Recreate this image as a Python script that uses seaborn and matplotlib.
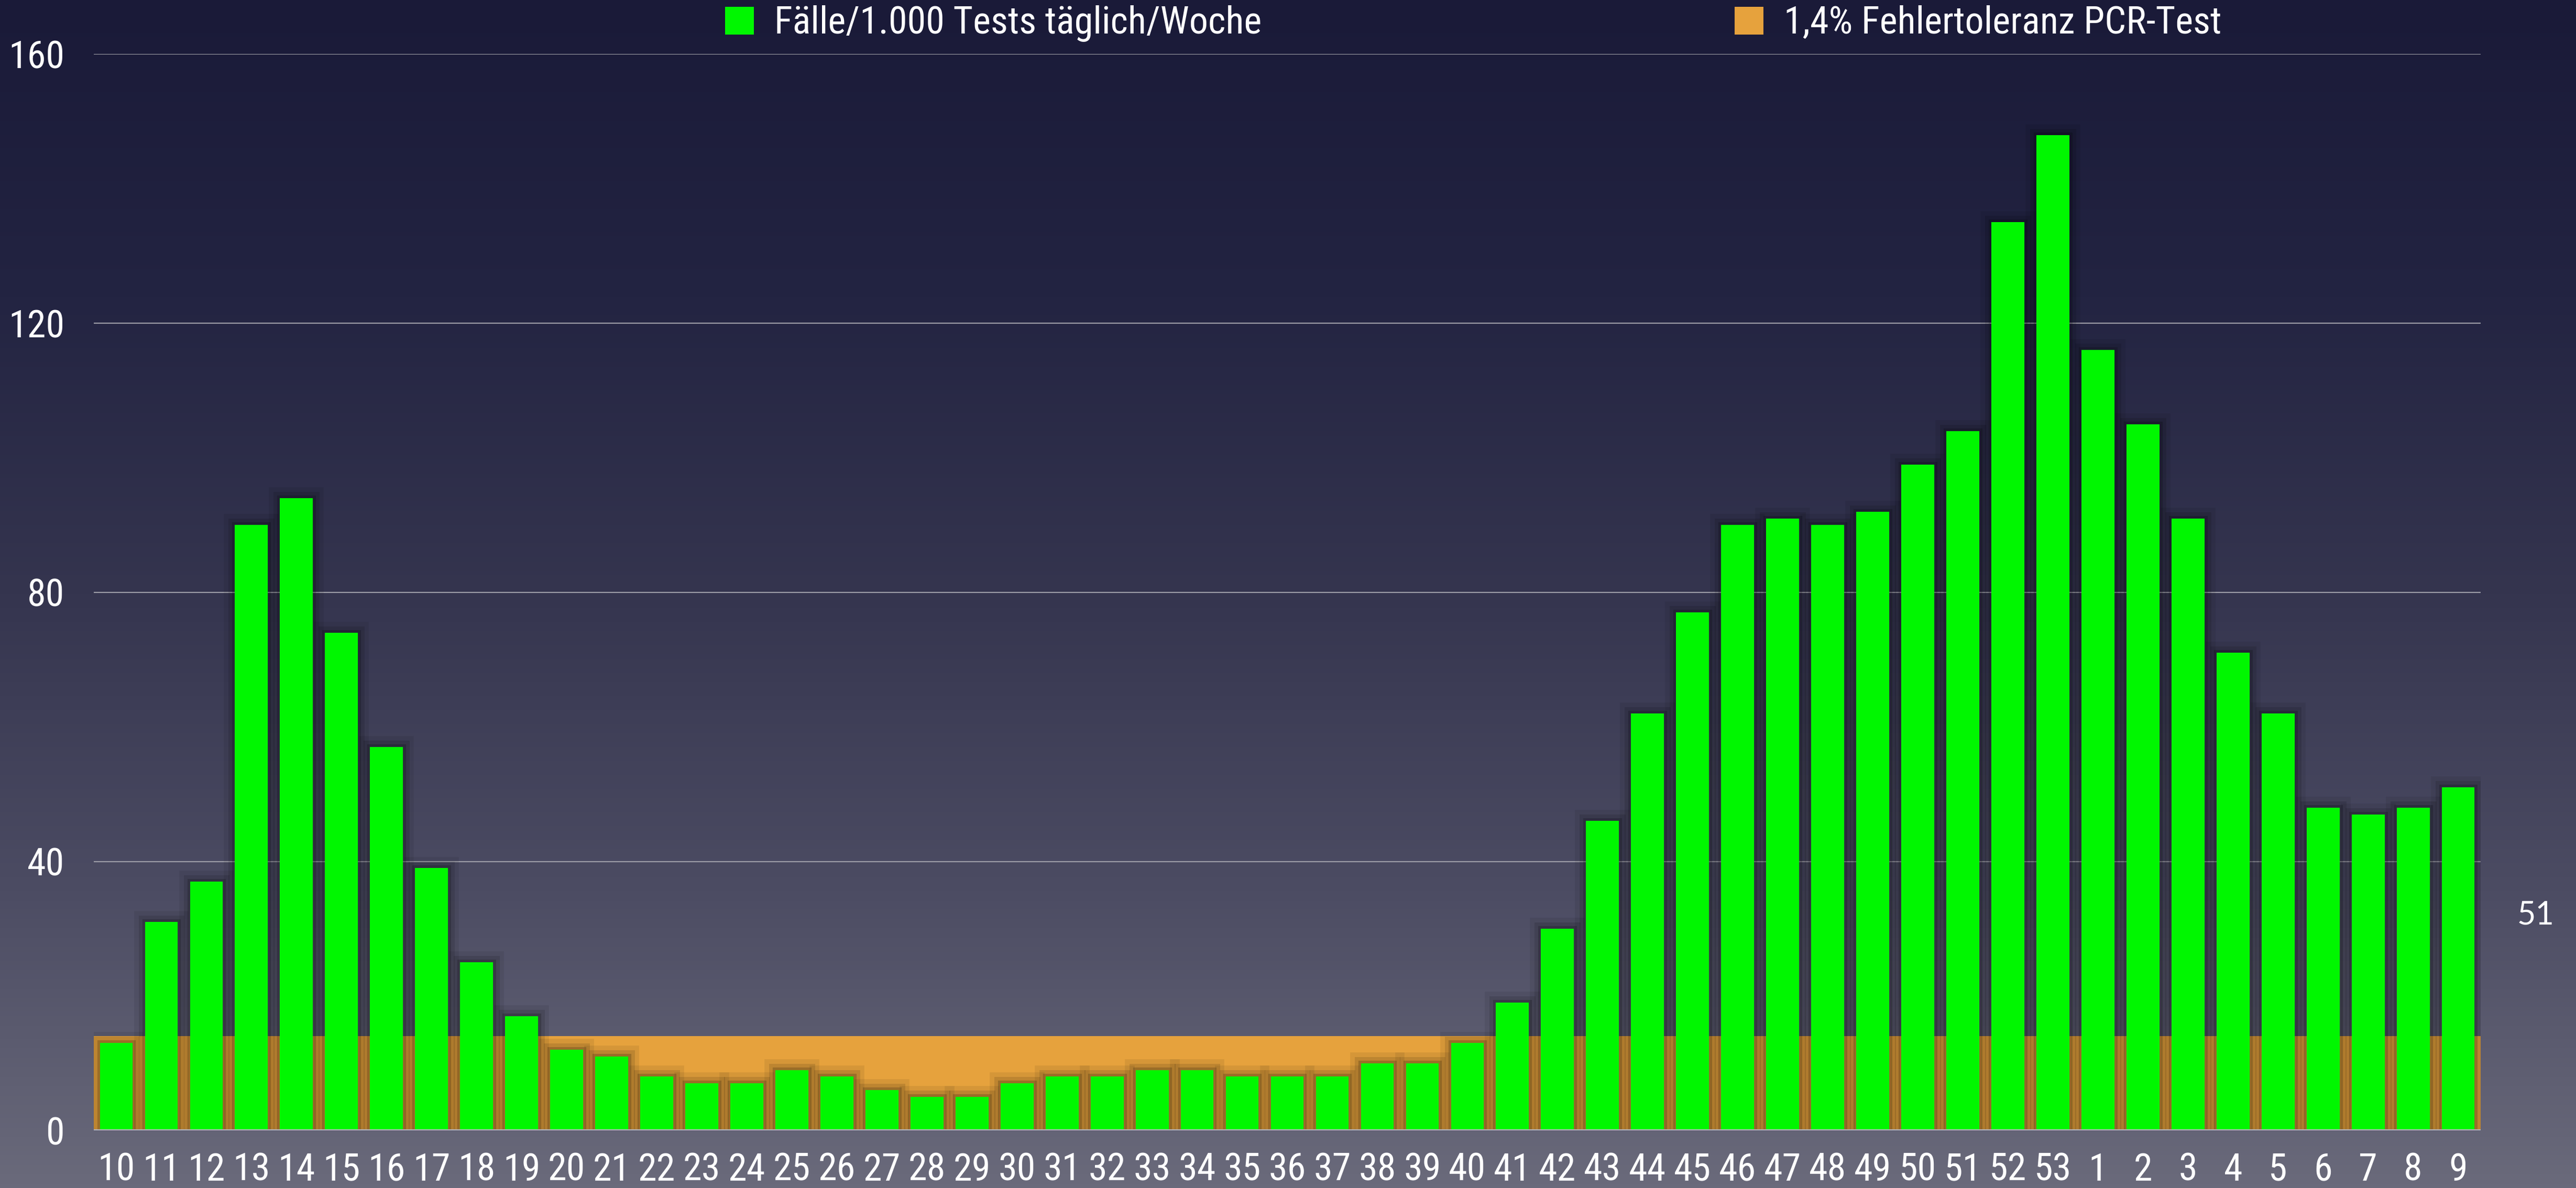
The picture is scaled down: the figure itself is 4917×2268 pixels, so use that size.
import numpy as np
import matplotlib
matplotlib.use("Agg")
import matplotlib.pyplot as plt
import seaborn as sns
from matplotlib.colors import LinearSegmentedColormap
from matplotlib.patches import Patch
from matplotlib import font_manager as fm
import matplotlib.patheffects as pe

# ---------------- data ----------------
weeks = [str(w) for w in list(range(10, 54)) + list(range(1, 10))]
cases_per_1000 = [13, 31, 37, 90, 94, 74, 57, 39, 25, 17,
                  12, 11, 8, 7, 7, 9, 8, 6, 5, 5,
                  7, 8, 8, 9, 9, 8, 8, 8, 10, 10,
                  13, 19, 30, 46, 62, 77, 90, 91, 90, 92,
                  99, 104, 135, 148,
                  116, 105, 91, 71, 62, 48, 47, 48, 51]
tolerance = [14] * len(weeks)
y_ticks = [0, 40, 80, 120, 160]
series_names = ["Fälle/1.000 Tests täglich/Woche", "1,4% Fehlertoleranz PCR-Test"]
current_label = "51"

GREEN = "#00f700"
ORANGE = "#e6a23d"


def find_condensed():
    prefs = ["Liberation Sans Narrow", "Roboto Condensed", "Open Sans Condensed",
             "Noto Sans", "Open Sans", "Roboto", "DejaVu Sans", "Inter", "Lato"]
    cond = ("condensed", "semi-condensed", "extra-condensed", "ultra-condensed",
            75, 62.5, 87.5, 50)
    for name in prefs:
        for f in fm.fontManager.ttflist:
            if f.name != name or f.style != "normal":
                continue
            if f.weight not in (400, "normal", "regular", "book", "Regular"):
                continue
            if f.stretch in cond or "Narrow" in name or "Condensed" in name \
                    or "Condensed" in f.fname or "Narrow" in f.fname:
                return f.fname
    return None


sns.set_theme(style="white")
plt.rcParams["font.family"] = ["DejaVu Sans"]

cpath = find_condensed()
if cpath:
    tick_fp = fm.FontProperties(fname=cpath, size=52)
    leg_fp = fm.FontProperties(fname=cpath, size=52)
else:
    tick_fp = fm.FontProperties(family="DejaVu Sans", size=37)
    leg_fp = fm.FontProperties(family="DejaVu Sans", size=44)

fig = plt.figure(figsize=(49.17, 22.68), dpi=100)

# background gradient
bg = fig.add_axes([0, 0, 1, 1], zorder=-10)
cmap = LinearSegmentedColormap.from_list(
    "bg", ["#1a1a38", "#232442", "#35354f", "#4c4c63", "#6a6a7b"])
grad = np.linspace(0, 1, 512).reshape(-1, 1)
bg.imshow(grad, aspect="auto", cmap=cmap, extent=[0, 1, 0, 1], origin="upper")
bg.axis("off")

ax = fig.add_axes([0.0364, 0.0484, 0.9266, 0.906])
ax.patch.set_alpha(0)

x = np.arange(len(weeks))
x_edges = np.r_[x[0] - 0.5, x, x[-1] + 0.5]
tol_ext = np.r_[tolerance[0], tolerance, tolerance[-1]]
ax.fill_between(x_edges, tol_ext, 0, color=ORANGE, lw=0, zorder=1)

sns.barplot(x=weeks, y=cases_per_1000, order=weeks, color=GREEN,
            saturation=1, width=0.73, ax=ax, zorder=3, linewidth=0)

halo = [pe.Stroke(linewidth=30, foreground="black", alpha=0.07),
        pe.Stroke(linewidth=18, foreground="black", alpha=0.11),
        pe.Stroke(linewidth=8, foreground="black", alpha=0.18),
        pe.Normal()]
for p in ax.patches:
    p.set_path_effects(halo)

ax.set_xlim(-0.5, len(weeks) - 0.5)
ax.set_ylim(0, 160)
ax.set_yticks(y_ticks)
ax.yaxis.grid(True, color="#9c9ca6", lw=1.6, zorder=0)
ax.xaxis.grid(False)
ax.set_axisbelow(True)
ax.axhline(0, color="#b4b4bc", lw=3, zorder=5)
for s in ax.spines.values():
    s.set_visible(False)
ax.set_xlabel("")
ax.set_ylabel("")
ax.tick_params(axis="x", length=0, pad=30, colors="white")
ax.tick_params(axis="y", length=0, pad=40, colors="white")
for lbl in ax.get_xticklabels() + ax.get_yticklabels():
    lbl.set_fontproperties(tick_fp)
    lbl.set_color("white")

handles = [Patch(facecolor=GREEN, edgecolor="none"),
           Patch(facecolor=ORANGE, edgecolor="none")]
fig.legend(handles, series_names, loc="center", bbox_to_anchor=(0.572, 0.980),
           ncol=2, frameon=False, prop=leg_fp, handlelength=0.75,
           handleheight=0.75, columnspacing=12.5, handletextpad=0.55,
           labelcolor="white")

fig.text(0.9843, 0.2297, current_label, ha="center", va="center",
         color="white", fontsize=44, family=["Lato", "DejaVu Sans"],
         fontweight="normal")

fig.savefig("out.png", dpi=100)
